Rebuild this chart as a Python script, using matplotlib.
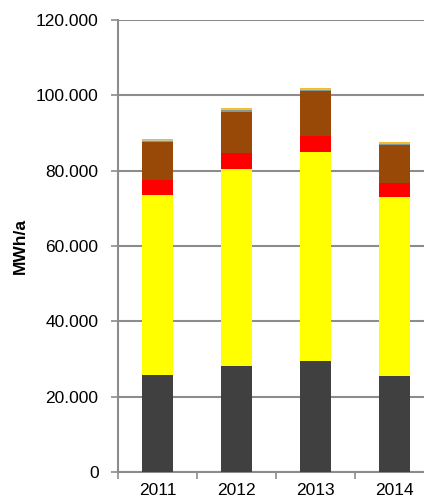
import numpy as np
import matplotlib
matplotlib.use("Agg")
import matplotlib.pyplot as plt
from matplotlib.ticker import FuncFormatter, FixedLocator

# Data (MWh/a)
years = ["2011", "2012", "2013", "2014"]
dark = [25800, 28200, 29600, 25500]
yellow = [47700, 52200, 55400, 47500]
red = [3900, 4300, 4300, 3800]
brown = [10200, 11000, 11800, 9900]
teal = [400, 450, 400, 350]
beige = [150, 150, 150, 150]
gold = [350, 350, 400, 450]

series = [dark, yellow, red, brown, teal, beige, gold]
colors = ["#404040", "#FFFF00", "#FF0000", "#984807", "#7E9A9A", "#C9C69A", "#F4BA2C"]

plt.rcParams['font.family'] = ['Liberation Sans', 'DejaVu Sans']

fig = plt.figure(figsize=(4.24, 5.0), dpi=100)
ax = fig.add_axes([118 / 424, 28 / 500, 316 / 424, 452 / 500])

x = np.arange(len(years))
bottom = np.zeros(len(years))
for vals, c in zip(series, colors):
    ax.bar(x, vals, width=0.4, bottom=bottom, color=c, zorder=3)
    bottom += np.array(vals)

ax.set_ylim(0, 120000)
ax.set_xlim(-0.5, 3.5)
ax.set_yticks(np.arange(0, 120001, 20000))
ax.yaxis.set_major_formatter(FuncFormatter(lambda v, p: f"{int(v):,}".replace(",", ".")))
ax.grid(axis="y", color="#8c8c8c", linewidth=1.5, zorder=0)

# category boundaries as ticks, labels in the middle
ax.xaxis.set_major_locator(FixedLocator([-0.5, 0.5, 1.5, 2.5, 3.5]))
ax.xaxis.set_minor_locator(FixedLocator(x))
ax.set_xticklabels([""] * 5)
ax.set_xticklabels(years, minor=True)
ax.tick_params(axis="x", which="minor", length=0, labelsize=12.5, pad=8, colors="black")
ax.tick_params(axis="x", which="major", length=5, width=1.2, color="#8c8c8c")
ax.tick_params(axis="y", length=5, width=1.2, color="#8c8c8c", labelsize=12.5, labelcolor="black", pad=9)

for s in ["top", "right"]:
    ax.spines[s].set_visible(False)
for s in ["left", "bottom"]:
    ax.spines[s].set_color("#8c8c8c")
    ax.spines[s].set_linewidth(1.5)

ax.set_ylabel("MWh/a", fontsize=12.5, fontweight="bold")
ax.yaxis.set_label_coords(-0.285, 0.5)

fig.savefig("out.png", dpi=100)
